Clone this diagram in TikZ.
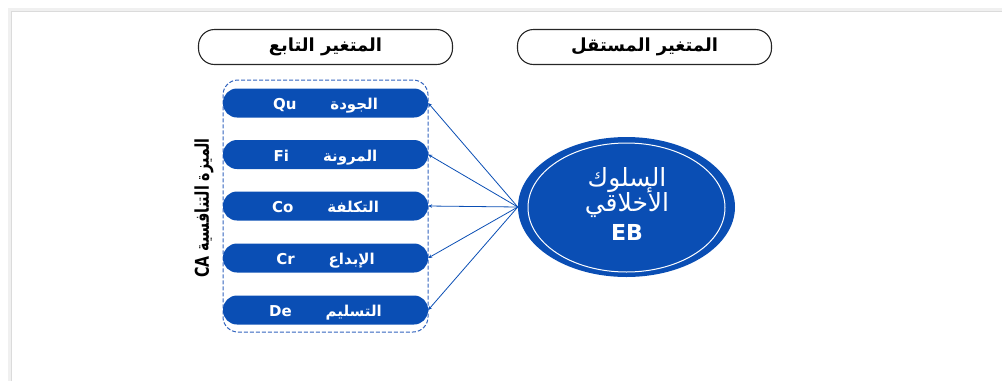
\documentclass[tikz,border=0pt]{standalone}
\usepackage{fontspec}
\setmainfont{DejaVu Sans}
\newfontfamily\arabicfont[Script=Arabic]{DejaVu Sans}
\TeXXeTstate=1
\usetikzlibrary{shapes.geometric,arrows.meta}
\definecolor{pillblue}{RGB}{10,78,180}
\definecolor{dashblue}{RGB}{50,100,190}
\tikzset{
  header/.style={draw=black!85, line width=1.1pt, rounded corners=16pt, minimum width=254pt, minimum height=35pt, inner sep=0pt, font=\bfseries\fontsize{18}{20}\selectfont},
  pill/.style={fill=pillblue, text=white, rounded corners=14pt, minimum width=205pt, minimum height=29pt, inner sep=0pt, text height=15pt, text depth=2pt, font=\bfseries\fontsize{15}{17}\selectfont},
  container/.style={draw=dashblue, dash pattern=on 4pt off 2pt, line width=1pt, rounded corners=15pt, minimum width=205pt, minimum height=252pt, inner sep=0pt},
  conn/.style={draw=pillblue, line width=0.8pt, -{Stealth[length=4pt,width=3.5pt]}},
  ebnode/.style={ellipse, fill=pillblue, minimum width=217pt, minimum height=140pt, inner sep=0pt},
  ebtext/.style={text=white, inner sep=0pt, font=\fontsize{25}{27}\selectfont},
}
\newcommand\pilltext[2]{#1\hspace{34pt}{\arabicfont\beginR #2\endR}}
\begin{document}
\begin{tikzpicture}[x=1pt,y=-1pt]
\useasboundingbox (0,0) rectangle (1002,381);
% page shadow
\draw[black!6, line width=4pt] (10,381) -- (10,10) -- (1002,10);
\draw[black!14, line width=1pt] (11.5,381) -- (11.5,11.5) -- (1002,11.5);
% headers
\node[header] (dep) at (325.5,47) {\arabicfont\beginR المتغير التابع\endR};
\node[header] (ind) at (644.5,47) {\arabicfont\beginR المتغير المستقل\endR};
% container
\node[container] (ca) at (325.5,206) {};
% pills
\node[pill] (qu) at (325.5,103) {\pilltext{Qu}{الجودة}};
\node[pill] (fi) at (325.5,154.5) {\pilltext{Fi}{المرونة}};
\node[pill] (co) at (325.5,206) {\pilltext{Co}{التكلفة}};
\node[pill] (cr) at (325.5,258) {\pilltext{Cr}{الإبداع}};
\node[pill] (de) at (325.5,310) {\pilltext{De}{التسليم}};
% side label
\node[rotate=90, font=\bfseries\fontsize{19}{21}\selectfont] (lab) at (204,208) {\scalebox{0.75}[1]{CA {\arabicfont\beginR الميزة التنافسية\endR}}};
% ellipse
\node[ebnode] (eb) at (626.5,207) {};
\node[ellipse, draw=white, line width=1pt, minimum width=197pt, minimum height=129pt, inner sep=0pt] (ebin) at (626.5,207.5) {};
\node[ebtext] (ebt1) at (627,180) {\arabicfont\beginR السلوك\endR};
\node[ebtext] (ebt2) at (627,203) {\arabicfont\beginR الأخلاقي\endR};
\node[text=white, font=\bfseries\fontsize{22}{24}\selectfont] (ebl) at (627,232) {EB};
% connectors
\draw[conn] (eb.west) -- (qu.east);
\draw[conn] (eb.west) -- (fi.east);
\draw[conn] (eb.west) -- (co.east);
\draw[conn] (eb.west) -- (cr.east);
\draw[conn] (eb.west) -- (de.east);
\end{tikzpicture}
\end{document}
